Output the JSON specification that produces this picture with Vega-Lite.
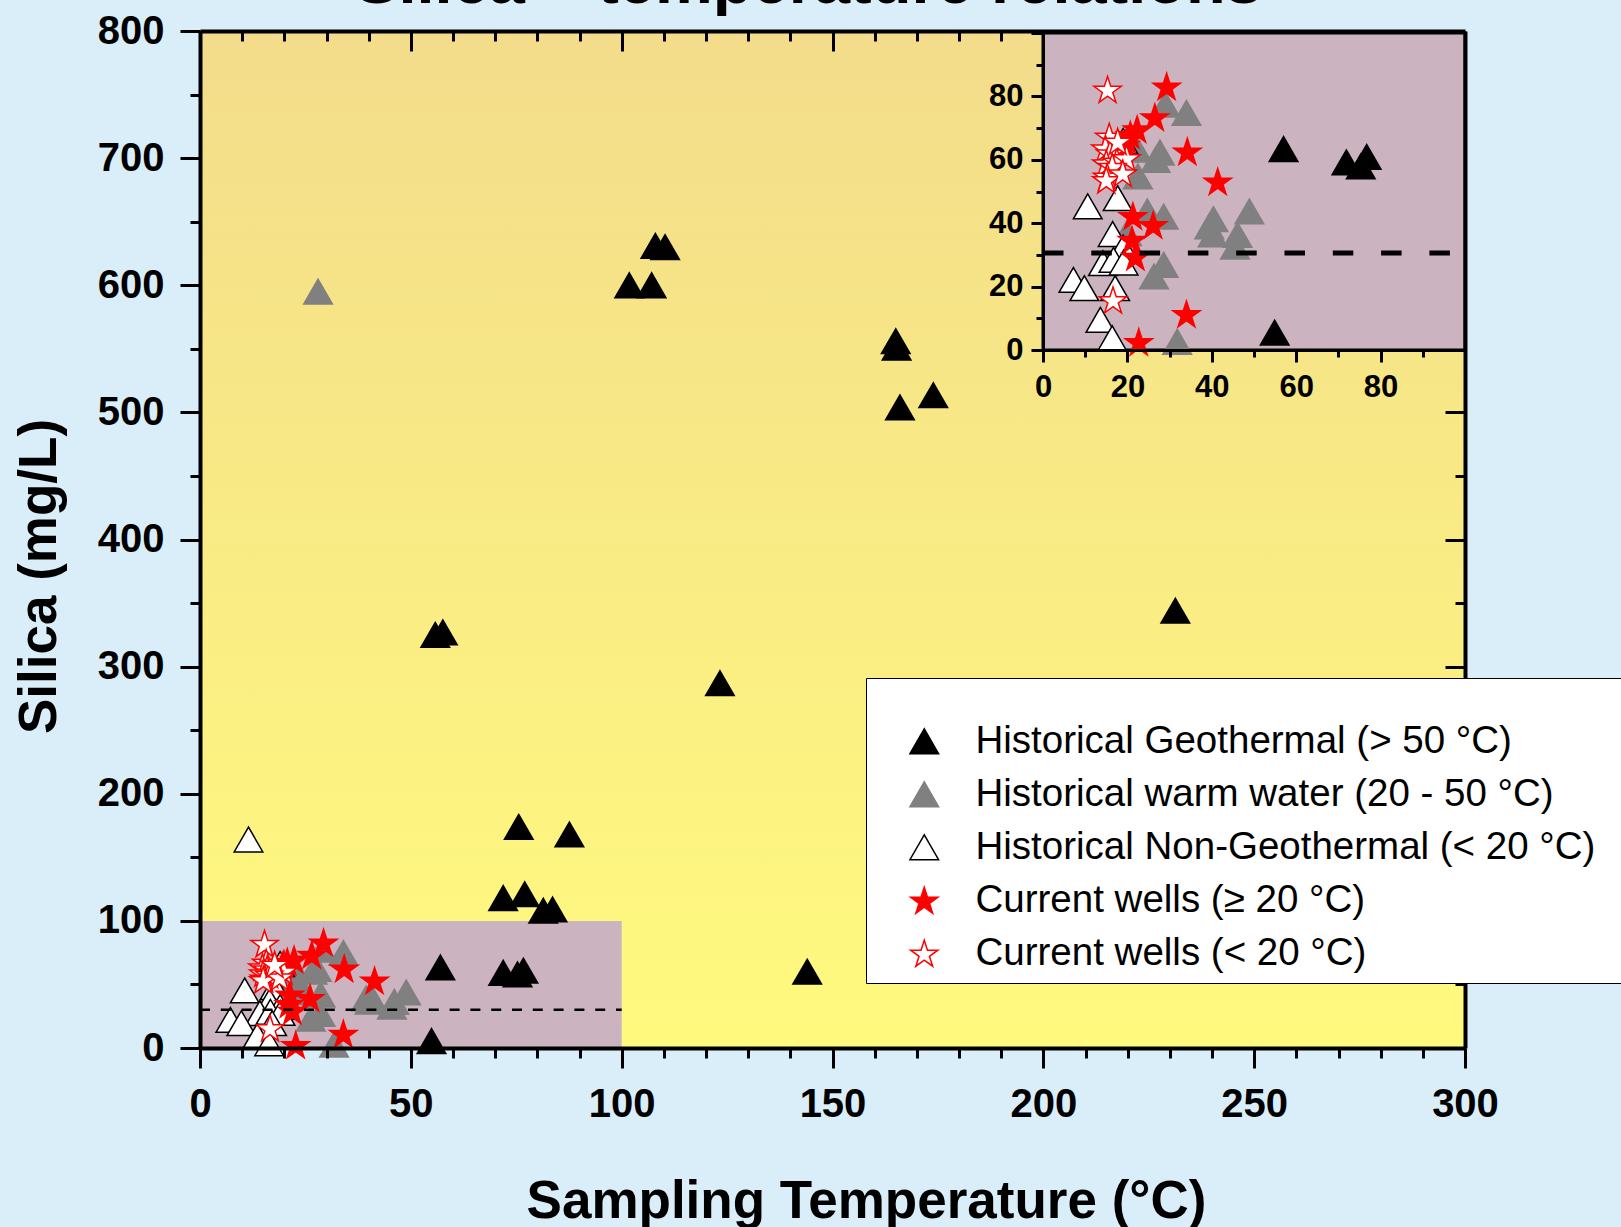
{
  "$schema": "https://vega.github.io/schema/vega-lite/v6.json",
  "width": 1265,
  "height": 1017,
  "autosize": {"type": "none"},
  "padding": {"left": 200, "top": 31, "right": 156, "bottom": 179},
  "background": "#d9eef8",
  "title": {"text": "Silica – temperature relations", "fontSize": 65, "font": "Liberation Sans", "fontWeight": "bold", "color": "black", "anchor": "middle", "frame": "group", "dx": -24, "dy": 57, "baseline": "alphabetic", "offset": 0},
  "config": {
    "view": {"stroke": null},
    "font": "Liberation Sans",
    "axis": {"zindex": 1, "domainColor": "black", "domainWidth": 4, "tickColor": "black", "tickWidth": 3, "grid": false, "labelFont": "Liberation Sans", "labelFontWeight": "bold", "labelColor": "black", "labelOverlap": false, "labelFlush": false, "titleFont": "Liberation Sans", "titleFontWeight": "bold", "titleColor": "black"},
    "legend": {"zindex": 2, "orient": "none", "legendX": 666, "legendY": 647, "fillColor": "white", "strokeColor": "black", "padding": 10, "labelFontSize": 38.5, "labelFont": "Liberation Sans", "labelColor": "black", "labelLimit": 0, "rowPadding": 14, "labelOffset": 32, "symbolOffset": 29, "symbolSize": 820, "symbolStrokeWidth": 1.5, "titleFontSize": 24, "titlePadding": 10, "titleLimit": 0, "titleColor": "white", "titleFontWeight": "normal"}
  },
  "datasets": {
    "pts": [
      {"T": 101.8, "S": 600, "g": "Historical Geothermal (> 50 °C)"},
      {"T": 107.1, "S": 600, "g": "Historical Geothermal (> 50 °C)"},
      {"T": 108, "S": 631, "g": "Historical Geothermal (> 50 °C)"},
      {"T": 110.3, "S": 630, "g": "Historical Geothermal (> 50 °C)"},
      {"T": 165, "S": 556, "g": "Historical Geothermal (> 50 °C)"},
      {"T": 165.2, "S": 551, "g": "Historical Geothermal (> 50 °C)"},
      {"T": 166, "S": 504, "g": "Historical Geothermal (> 50 °C)"},
      {"T": 173.9, "S": 513.5, "g": "Historical Geothermal (> 50 °C)"},
      {"T": 123.3, "S": 287, "g": "Historical Geothermal (> 50 °C)"},
      {"T": 55.8, "S": 325, "g": "Historical Geothermal (> 50 °C)"},
      {"T": 57.6, "S": 327, "g": "Historical Geothermal (> 50 °C)"},
      {"T": 231.3, "S": 344, "g": "Historical Geothermal (> 50 °C)"},
      {"T": 75.6, "S": 174, "g": "Historical Geothermal (> 50 °C)"},
      {"T": 87.6, "S": 168, "g": "Historical Geothermal (> 50 °C)"},
      {"T": 71.9, "S": 118, "g": "Historical Geothermal (> 50 °C)"},
      {"T": 77, "S": 121, "g": "Historical Geothermal (> 50 °C)"},
      {"T": 81.4, "S": 108, "g": "Historical Geothermal (> 50 °C)"},
      {"T": 83.6, "S": 109, "g": "Historical Geothermal (> 50 °C)"},
      {"T": 144, "S": 60, "g": "Historical Geothermal (> 50 °C)"},
      {"T": 57, "S": 63.4, "g": "Historical Geothermal (> 50 °C)"},
      {"T": 71.9, "S": 59.2, "g": "Historical Geothermal (> 50 °C)"},
      {"T": 75.3, "S": 57.9, "g": "Historical Geothermal (> 50 °C)"},
      {"T": 76.7, "S": 60.9, "g": "Historical Geothermal (> 50 °C)"},
      {"T": 54.9, "S": 5.5, "g": "Historical Geothermal (> 50 °C)"},
      {"T": 28, "S": 595, "g": "Historical warm water (20 - 50 °C)"},
      {"T": 29, "S": 77.4, "g": "Historical warm water (20 - 50 °C)"},
      {"T": 34, "S": 74.8, "g": "Historical warm water (20 - 50 °C)"},
      {"T": 27.7, "S": 62.3, "g": "Historical warm water (20 - 50 °C)"},
      {"T": 26.7, "S": 60, "g": "Historical warm water (20 - 50 °C)"},
      {"T": 22.3, "S": 63.2, "g": "Historical warm water (20 - 50 °C)"},
      {"T": 22.5, "S": 54.8, "g": "Historical warm water (20 - 50 °C)"},
      {"T": 24.7, "S": 43.7, "g": "Historical warm water (20 - 50 °C)"},
      {"T": 28.6, "S": 42.1, "g": "Historical warm water (20 - 50 °C)"},
      {"T": 40.4, "S": 41.3, "g": "Historical warm water (20 - 50 °C)"},
      {"T": 39.4, "S": 39, "g": "Historical warm water (20 - 50 °C)"},
      {"T": 40.2, "S": 36.5, "g": "Historical warm water (20 - 50 °C)"},
      {"T": 48.9, "S": 43.7, "g": "Historical warm water (20 - 50 °C)"},
      {"T": 46.1, "S": 36.3, "g": "Historical warm water (20 - 50 °C)"},
      {"T": 45.5, "S": 32.6, "g": "Historical warm water (20 - 50 °C)"},
      {"T": 19.9, "S": 36.9, "g": "Historical warm water (20 - 50 °C)"},
      {"T": 28.6, "S": 26.9, "g": "Historical warm water (20 - 50 °C)"},
      {"T": 26.3, "S": 23.2, "g": "Historical warm water (20 - 50 °C)"},
      {"T": 31.8, "S": 2.6, "g": "Historical warm water (20 - 50 °C)"},
      {"T": 11.5, "S": 164, "g": "Historical Non-Geothermal (< 20 °C)"},
      {"T": 10.6, "S": 45.3, "g": "Historical Non-Geothermal (< 20 °C)"},
      {"T": 17.7, "S": 47.9, "g": "Historical Non-Geothermal (< 20 °C)"},
      {"T": 16.5, "S": 36.6, "g": "Historical Non-Geothermal (< 20 °C)"},
      {"T": 19, "S": 32.3, "g": "Historical Non-Geothermal (< 20 °C)"},
      {"T": 14.2, "S": 27.4, "g": "Historical Non-Geothermal (< 20 °C)"},
      {"T": 16.7, "S": 28.4, "g": "Historical Non-Geothermal (< 20 °C)"},
      {"T": 19.1, "S": 27.6, "g": "Historical Non-Geothermal (< 20 °C)"},
      {"T": 7.2, "S": 22.1, "g": "Historical Non-Geothermal (< 20 °C)"},
      {"T": 9.8, "S": 19.5, "g": "Historical Non-Geothermal (< 20 °C)"},
      {"T": 17.1, "S": 19.5, "g": "Historical Non-Geothermal (< 20 °C)"},
      {"T": 13.6, "S": 9.5, "g": "Historical Non-Geothermal (< 20 °C)"},
      {"T": 16.4, "S": 3.7, "g": "Historical Non-Geothermal (< 20 °C)"},
      {"T": 19, "S": 66, "g": "Historical Non-Geothermal (< 20 °C)"},
      {"T": 29.3, "S": 83.2, "g": "Current wells (≥ 20 °C)"},
      {"T": 26.5, "S": 73.5, "g": "Current wells (≥ 20 °C)"},
      {"T": 22.3, "S": 69.7, "g": "Current wells (≥ 20 °C)"},
      {"T": 20.7, "S": 67.9, "g": "Current wells (≥ 20 °C)"},
      {"T": 19.9, "S": 66.3, "g": "Current wells (≥ 20 °C)"},
      {"T": 19.5, "S": 64.8, "g": "Current wells (≥ 20 °C)"},
      {"T": 34.2, "S": 62.7, "g": "Current wells (≥ 20 °C)"},
      {"T": 41.4, "S": 53.2, "g": "Current wells (≥ 20 °C)"},
      {"T": 21.3, "S": 42.3, "g": "Current wells (≥ 20 °C)"},
      {"T": 26.1, "S": 39.5, "g": "Current wells (≥ 20 °C)"},
      {"T": 21.1, "S": 34.8, "g": "Current wells (≥ 20 °C)"},
      {"T": 21.9, "S": 29.5, "g": "Current wells (≥ 20 °C)"},
      {"T": 34, "S": 11.4, "g": "Current wells (≥ 20 °C)"},
      {"T": 22.7, "S": 2.6, "g": "Current wells (≥ 20 °C)"},
      {"T": 15.3, "S": 82.2, "g": "Current wells (< 20 °C)"},
      {"T": 15.7, "S": 67.4, "g": "Current wells (< 20 °C)"},
      {"T": 14.8, "S": 63.7, "g": "Current wells (< 20 °C)"},
      {"T": 15.9, "S": 62.1, "g": "Current wells (< 20 °C)"},
      {"T": 15, "S": 59, "g": "Current wells (< 20 °C)"},
      {"T": 17.5, "S": 59.5, "g": "Current wells (< 20 °C)"},
      {"T": 19.8, "S": 60.6, "g": "Current wells (< 20 °C)"},
      {"T": 16.4, "S": 57.9, "g": "Current wells (< 20 °C)"},
      {"T": 15.2, "S": 54.8, "g": "Current wells (< 20 °C)"},
      {"T": 15, "S": 53.7, "g": "Current wells (< 20 °C)"},
      {"T": 18.9, "S": 55.8, "g": "Current wells (< 20 °C)"},
      {"T": 16.6, "S": 15.8, "g": "Current wells (< 20 °C)"},
      {"T": 17.7, "S": 65.8, "g": "Current wells (< 20 °C)"}
    ]
  },
  "resolve": {"scale": {"x": "independent", "y": "independent"}, "axis": {"x": "independent", "y": "independent"}},
  "layer": [
    {
      "layer": [
        {
          "data": {"values": [{}]},
          "mark": {"type": "rect", "fill": {"gradient": "linear", "x1": 0, "y1": 0, "x2": 0, "y2": 1, "stops": [{"offset": 0, "color": "#f3dc8b"}, {"offset": 1, "color": "#fffa7e"}]}},
          "encoding": {
            "x": {"datum": 0, "type": "quantitative"},
            "x2": {"datum": 300},
            "y": {"datum": 0, "type": "quantitative"},
            "y2": {"datum": 800}
          }
        },
        {
          "data": {"values": [{}]},
          "mark": {"type": "rect", "fill": "#cbb3bf"},
          "encoding": {
            "x": {"datum": 0, "type": "quantitative"},
            "x2": {"datum": 100},
            "y": {"datum": 0, "type": "quantitative"},
            "y2": {"datum": 100}
          }
        },
        {
          "data": {"name": "pts"},
          "mark": {"type": "point", "filled": true, "size": 820, "strokeWidth": 1.5, "opacity": 1},
          "encoding": {
            "x": {"field": "T", "type": "quantitative", "scale": {"domain": [0, 300], "nice": false, "zero": false},
              "axis": {"orient": "bottom", "zindex": 1, "title": "Sampling Temperature (°C)", "values": [0,50,100,150,200,250,300], "tickSize": 20, "labelPadding": 16, "labelFontSize": 40, "titleFontSize": 53, "titleX": 666, "titleY": 169, "titleAlign": "center", "titleBaseline": "alphabetic"}},
            "y": {"field": "S", "type": "quantitative", "scale": {"domain": [0, 800], "nice": false, "zero": false},
              "axis": {"orient": "left", "zindex": 1, "title": "Silica (mg/L)", "values": [0,100,200,300,400,500,600,700,800], "tickSize": 20, "labelPadding": 16, "labelFontSize": 40, "titleFontSize": 53, "titleX": -145, "titleY": 545, "titleAngle": -90, "titleAlign": "center", "titleBaseline": "alphabetic"}},
            "shape": {"field": "g", "type": "nominal", "title": "____________________________________________________________", "scale": {"domain": ["Historical Geothermal (> 50 °C)", "Historical warm water (20 - 50 °C)", "Historical Non-Geothermal (< 20 °C)", "Current wells (≥ 20 °C)", "Current wells (< 20 °C)"], "range": ["triangle-up", "triangle-up", "triangle-up", "M0,-0.905L0.2245,-0.214L0.951,-0.214L0.3633,0.213L0.588,0.904L0,0.477L-0.588,0.904L-0.3633,0.213L-0.951,-0.214L-0.2245,-0.214Z", "M0,-0.905L0.2245,-0.214L0.951,-0.214L0.3633,0.213L0.588,0.904L0,0.477L-0.588,0.904L-0.3633,0.213L-0.951,-0.214L-0.2245,-0.214Z"]}},
            "fill": {"field": "g", "type": "nominal", "title": "____________________________________________________________", "scale": {"domain": ["Historical Geothermal (> 50 °C)", "Historical warm water (20 - 50 °C)", "Historical Non-Geothermal (< 20 °C)", "Current wells (≥ 20 °C)", "Current wells (< 20 °C)"], "range": ["#000000", "#808080", "#ffffff", "#ff0000", "#ffffff"]}},
            "stroke": {"field": "g", "type": "nominal", "title": "____________________________________________________________", "scale": {"domain": ["Historical Geothermal (> 50 °C)", "Historical warm water (20 - 50 °C)", "Historical Non-Geothermal (< 20 °C)", "Current wells (≥ 20 °C)", "Current wells (< 20 °C)"], "range": ["#000000", "#808080", "#000000", "#ff0000", "#ff0000"]}}
          }
        }
      ]
    },
    {
      "data": {"values": [{}]},
      "mark": {"type": "rule", "strokeDash": [10, 10.8], "strokeWidth": 2.5, "color": "black"},
      "encoding": {
        "x": {"datum": 0, "type": "quantitative", "scale": {"domain": [0, 300], "nice": false, "zero": false},
          "axis": {"orient": "top", "zindex": 1, "title": null, "labels": false, "values": [0,50,100,150,200], "tickSize": -20}},
        "x2": {"datum": 100},
        "y": {"datum": 30, "type": "quantitative", "scale": {"domain": [0, 800], "nice": false, "zero": false},
          "axis": {"orient": "right", "zindex": 1, "title": null, "labels": false, "values": [0,100,200,300,400,500], "tickSize": -20}}
      }
    },
    {
      "data": {"values": [{}]},
      "mark": {"type": "point", "opacity": 0},
      "encoding": {
        "x": {"datum": 0, "type": "quantitative", "scale": {"domain": [0, 300], "nice": false, "zero": false},
          "axis": {"orient": "bottom", "zindex": 1, "title": null, "labels": false, "domain": false, "values": [10,20,30,40,60,70,80,90,110,120,130,140,160,170,180,190,210,220,230,240,260,270,280,290], "tickSize": 10}},
        "y": {"datum": 0, "type": "quantitative", "scale": {"domain": [0, 800], "nice": false, "zero": false},
          "axis": {"orient": "left", "zindex": 1, "title": null, "labels": false, "domain": false, "values": [50,150,250,350,450,550,650,750], "tickSize": 10}}
      }
    },
    {
      "data": {"values": [{}]},
      "mark": {"type": "point", "opacity": 0},
      "encoding": {
        "x": {"datum": 0, "type": "quantitative", "scale": {"domain": [0, 300], "nice": false, "zero": false},
          "axis": {"orient": "top", "zindex": 1, "title": null, "labels": false, "domain": false, "values": [10,20,30,40,60,70,80,90,110,120,130,140,160,170,180,190], "tickSize": -10}},
        "y": {"datum": 0, "type": "quantitative", "scale": {"domain": [0, 800], "nice": false, "zero": false},
          "axis": {"orient": "right", "zindex": 1, "title": null, "labels": false, "domain": false, "values": [50,150,250,350,450], "tickSize": -10}}
      }
    },
    {
      "layer": [
        {
          "data": {"values": [{}]},
          "mark": {"type": "rect", "fill": "#cbb3bf", "stroke": "black", "strokeWidth": 3},
          "encoding": {
            "x": {"datum": 0, "type": "quantitative", "scale": {"domain": [0, 100], "range": [843, 1265], "nice": false, "zero": false},
              "axis": {"orient": "bottom", "zindex": 1, "offset": -698, "title": null, "values": [0,20,40,60,80,100], "labelExpr": "datum.value < 100 ? datum.label : ''", "tickSize": 12, "labelPadding": 10, "labelFontSize": 31, "domainWidth": 3}},
            "x2": {"datum": 100},
            "y": {"datum": 0, "type": "quantitative", "scale": {"domain": [0, 100], "range": [319, 2], "nice": false, "zero": false},
              "axis": {"orient": "left", "zindex": 1, "offset": -843, "title": null, "values": [0,20,40,60,80,100], "labelExpr": "datum.value < 100 ? datum.label : ''", "tickSize": 12, "labelPadding": 8, "labelFontSize": 31, "domainWidth": 3}},
            "y2": {"datum": 100}
          }
        },
        {
          "data": {"name": "pts"},
          "transform": [{"filter": "datum.T <= 100 && datum.S <= 100"}],
          "mark": {"type": "point", "filled": true, "size": 820, "strokeWidth": 1.5, "opacity": 1},
          "encoding": {
            "x": {"field": "T", "type": "quantitative"},
            "y": {"field": "S", "type": "quantitative"},
            "shape": {"field": "g", "type": "nominal", "title": "____________________________________________________________"},
            "fill": {"field": "g", "type": "nominal", "title": "____________________________________________________________"},
            "stroke": {"field": "g", "type": "nominal", "title": "____________________________________________________________"}
          }
        },
        {
          "data": {"values": [{}]},
          "mark": {"type": "rule", "strokeDash": [20.5, 27.8], "strokeWidth": 5, "color": "black"},
          "encoding": {
            "x": {"datum": 0, "type": "quantitative"},
            "x2": {"datum": 100},
            "y": {"datum": 30.6, "type": "quantitative"}
          }
        }
      ]
    },
    {
      "data": {"values": [{}]},
      "mark": {"type": "point", "opacity": 0},
      "encoding": {
        "x": {"datum": 0, "type": "quantitative", "scale": {"domain": [0, 100], "range": [843, 1265], "nice": false, "zero": false},
          "axis": {"orient": "bottom", "zindex": 1, "offset": -698, "title": null, "labels": false, "domain": false, "values": [10,30,50,70,90], "tickSize": 7}},
        "y": {"datum": 0, "type": "quantitative", "scale": {"domain": [0, 100], "range": [319, 2], "nice": false, "zero": false},
          "axis": {"orient": "left", "zindex": 1, "offset": -843, "title": null, "labels": false, "domain": false, "values": [10,30,50,70,90], "tickSize": 7}}
      }
    }
  ]
}
